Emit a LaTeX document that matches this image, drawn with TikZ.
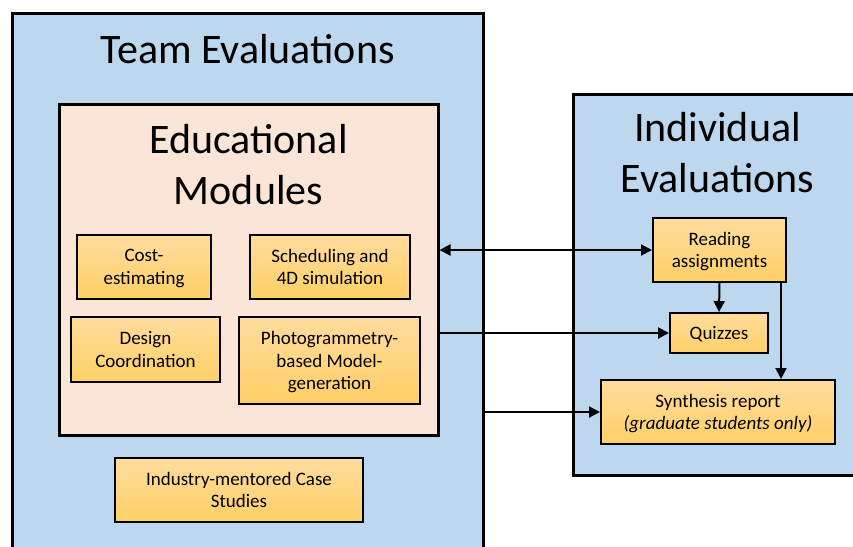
\documentclass[tikz,border=0pt]{standalone}
\usepackage{fontspec}
\setmainfont{Carlito}
\usetikzlibrary{arrows.meta}

\definecolor{panelblue}{HTML}{BDD7EE}
\definecolor{peach}{HTML}{FBE5D6}
\definecolor{goldtop}{HTML}{FFDC9E}
\definecolor{goldbot}{HTML}{FFD066}

\begin{document}
\begin{tikzpicture}[x=1pt, y=-1pt,
    panel/.style={draw, line width=3pt, fill=panelblue, inner sep=0pt},
    module/.style={draw, line width=2pt, top color=goldtop, bottom color=goldbot,
        inner sep=0pt, text depth=0pt, align=center, font=\fontsize{19}{22.5}\selectfont},
    headline/.style={align=center, inner sep=0pt, font=\fontsize{42}{51}\selectfont},
    tip/.tip={Triangle[length=11pt, width=11pt]},
    link/.style={line width=2pt, -tip}]
    \useasboundingbox (0,0) rectangle (853,546);
    \clip (0,0) rectangle (853,546);

    % Team side
    \node[panel, minimum width=471pt, minimum height=547pt] (team) at (247.5,286.5) {};
    \node[headline, anchor=base] (teamtitle) at (247.5,63) {Team Evaluations};

    % Individual side
    \node[panel, minimum width=289pt, minimum height=381pt] (indiv) at (717.5,284.5) {};
    \node[headline] (indivtitle) at (717.5,153) {Individual\\Evaluations};

    % Educational modules
    \node[panel, fill=peach, minimum width=379pt, minimum height=331pt] (edu) at (248.5,269.5) {};
    \node[headline] (edutitle) at (248.5,165) {Educational\\Modules};

    \node[module, minimum width=134pt, minimum height=64pt] (cost) at (144,267) {Cost-\\estimating};
    \node[module, minimum width=160pt, minimum height=64pt] (sched) at (330,267) {Scheduling and\\4D simulation};
    \node[module, minimum width=149pt, minimum height=65pt] (design) at (145.5,349.5) {Design\\Coordination};
    \node[module, minimum width=181pt, minimum height=87pt] (photo) at (329.5,360.5) {Photogrammetry-\\based Model-\\generation};

    % Case studies
    \node[module, minimum width=248pt, minimum height=64pt] (cases) at (239,490) {Industry-mentored Case\\Studies};

    % Individual work
    \node[module, minimum width=133pt, minimum height=64pt] (read) at (719.5,250) {Reading\\assignments};
    \node[module, minimum width=98pt, minimum height=40pt] (quiz) at (719,333) {Quizzes};
    \node[module, minimum width=234pt, minimum height=64pt] (synth) at (718,412) {Synthesis report\\\textit{(graduate students only)}};

    % Arrows
    \draw[link, tip-tip] (read.west -| edu.east) -- (read.west);
    \draw[link] (quiz.west -| edu.east) -- (quiz.west);
    \draw[link] (synth.west -| team.east) -- (synth.west);
    \draw[link] (read.south) -- (quiz.north);
    \draw[link] ([xshift=-6pt]read.south east) -- ([xshift=-6pt]read.south east |- synth.north);
\end{tikzpicture}
\end{document}
